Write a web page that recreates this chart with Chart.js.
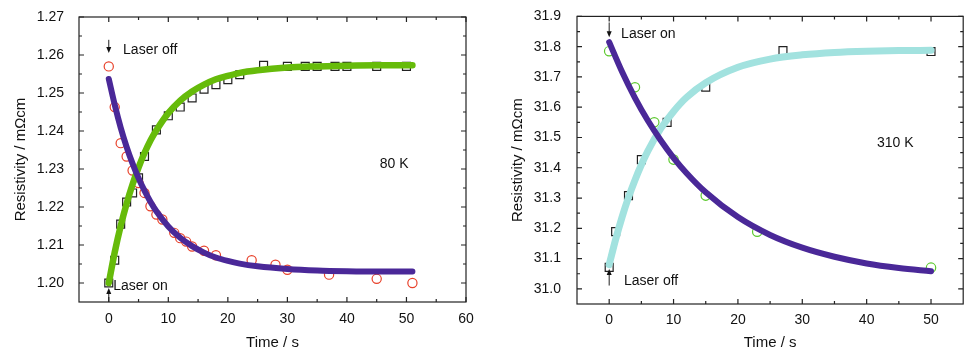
<!DOCTYPE html>
<html>
<head>
<meta charset="utf-8">
<script src="https://cdn.jsdelivr.net/npm/chart.js@4.4.1/dist/chart.umd.min.js"></script>
<style>
  body { margin: 0; background: #fff; }
  canvas { position: absolute; top: 0; }
  #left { left: 0; }
  #right { left: 490px; }
</style>
</head>
<body>
<canvas id="left" width="480" height="353"></canvas>
<canvas id="right" width="480" height="353"></canvas>
<script>
// ===== 80 K panel: measured points =====
const offTime80 = [0, 1, 2, 3, 4, 5, 6, 7, 8, 9, 11, 12, 13, 14, 16, 18, 24, 28, 30, 37, 45, 51];
const offRes80 = [1.257, 1.2463, 1.2368, 1.2333, 1.2296, 1.2263, 1.2237, 1.2202, 1.218, 1.2167, 1.2132, 1.2118, 1.2109, 1.2096, 1.2085, 1.2073, 1.206, 1.2048, 1.2035, 1.2022, 1.2011, 1.2];
const onTime80 = [0, 1, 2, 3, 4, 5, 6, 8, 10, 12, 14, 16, 18, 20, 22, 26, 30, 33, 35, 38, 40, 45, 50];
const onRes80 = [1.2, 1.206, 1.2155, 1.2213, 1.2237, 1.2277, 1.2333, 1.2403, 1.244, 1.2463, 1.2487, 1.251, 1.2522, 1.2535, 1.2548, 1.2573, 1.257, 1.257, 1.257, 1.257, 1.257, 1.257, 1.257];

// fitted curves
const fitTime80 = [0, 1, 2, 3, 4, 5, 6, 7, 8, 10, 12, 14, 16, 18, 20, 22, 25, 30, 35, 40, 45, 51];
const fitOn80 = [1.2, 1.2081, 1.215, 1.2209, 1.226, 1.2304, 1.2342, 1.2375, 1.2402, 1.2447, 1.248, 1.2504, 1.2522, 1.2536, 1.2545, 1.2553, 1.256, 1.2567, 1.257, 1.2572, 1.2573, 1.2573];
const fitOff80 = [1.2537, 1.2469, 1.2409, 1.2358, 1.2314, 1.2276, 1.2243, 1.2214, 1.2189, 1.2149, 1.2119, 1.2097, 1.208, 1.2067, 1.2058, 1.2051, 1.2044, 1.2037, 1.2033, 1.2031, 1.203, 1.203];

// ===== 310 K panel =====
const offTime310 = [0, 4, 7, 10, 15, 23, 50];
const offRes310 = [31.785, 31.666, 31.55, 31.427, 31.308, 31.189, 31.07];
const onTime310 = [0, 1, 3, 5, 9, 15, 27, 50];
const onRes310 = [31.071, 31.189, 31.308, 31.427, 31.55, 31.666, 31.787, 31.784];

const fitOnTime310 = [0, 1, 2, 3, 4, 5, 6, 8, 10, 12, 15, 20, 25, 30, 35, 40, 45, 50];
const fitOn310 = [31.08, 31.163, 31.237, 31.302, 31.359, 31.41, 31.455, 31.529, 31.586, 31.632, 31.681, 31.732, 31.759, 31.773, 31.781, 31.785, 31.787, 31.788];
const fitOffTime310 = [0, 2, 4, 6, 8, 10, 12, 15, 20, 25, 30, 35, 40, 45, 50];
const fitOff310 = [31.815, 31.717, 31.631, 31.556, 31.491, 31.433, 31.383, 31.319, 31.237, 31.178, 31.136, 31.106, 31.084, 31.069, 31.058];

// axis ticks
const xMajor80 = [0, 10, 20, 30, 40, 50, 60];
const xMinor80 = [5, 15, 25, 35, 45, 55];
const yMajor80 = [1.20, 1.21, 1.22, 1.23, 1.24, 1.25, 1.26, 1.27];
const yMinor80 = [1.205, 1.215, 1.225, 1.235, 1.245, 1.255, 1.265];
const xMajor310 = [0, 10, 20, 30, 40, 50];
const xMinor310 = [5, 15, 25, 35, 45];
const yMajor310 = [31.0, 31.1, 31.2, 31.3, 31.4, 31.5, 31.6, 31.7, 31.8, 31.9];
const yMinor310 = [31.05, 31.15, 31.25, 31.35, 31.45, 31.55, 31.65, 31.75, 31.85];

const FONT = "'Liberation Sans', Arial, Helvetica, sans-serif";
const PURPLE = "#4a2898";
const GREEN = "#66bb0a";
const CYAN = "#a2e2df";

const pts = (xs, ys) => xs.map((x, i) => ({ x, y: ys[i] }));

// box frame, inward ticks on all sides, arrows and notes
const framePlugin = {
	id: "frame",
	afterDraw(chart, args, opts) {
		const { ctx, chartArea: a, scales: { x, y } } = chart;
		ctx.save();
		ctx.strokeStyle = "#222";
		ctx.lineWidth = 1.2;
		ctx.strokeRect(a.left, a.top, a.width, a.height);

		const xTicks = (vals, len) => vals.forEach((v) => {
			const px = x.getPixelForValue(v);
			ctx.beginPath();
			ctx.moveTo(px, a.bottom); ctx.lineTo(px, a.bottom - len);
			ctx.moveTo(px, a.top); ctx.lineTo(px, a.top + len);
			ctx.stroke();
		});
		const yTicks = (vals, len) => vals.forEach((v) => {
			const py = y.getPixelForValue(v);
			ctx.beginPath();
			ctx.moveTo(a.left, py); ctx.lineTo(a.left + len, py);
			ctx.moveTo(a.right, py); ctx.lineTo(a.right - len, py);
			ctx.stroke();
		});
		xTicks(opts.xMajor, 5);
		xTicks(opts.xMinor, 3);
		yTicks(opts.yMajor, 5);
		yTicks(opts.yMinor, 3);

		// arrows
		ctx.fillStyle = "#111";
		ctx.lineWidth = 1;
		opts.arrows.forEach((ar) => {
			const px = x.getPixelForValue(ar.x);
			const p0 = y.getPixelForValue(ar.from);
			const p1 = y.getPixelForValue(ar.to);
			const dir = p1 > p0 ? 1 : -1;
			ctx.beginPath();
			ctx.moveTo(px, p0); ctx.lineTo(px, p1 - dir * 3);
			ctx.stroke();
			ctx.beginPath();
			ctx.moveTo(px, p1);
			ctx.lineTo(px - 2.5, p1 - dir * 6);
			ctx.lineTo(px + 2.5, p1 - dir * 6);
			ctx.closePath();
			ctx.fill();
		});

		// notes
		ctx.font = "14px " + FONT;
		ctx.textBaseline = "middle";
		ctx.textAlign = "left";
		opts.notes.forEach((n) => {
			ctx.fillText(n.text, x.getPixelForValue(n.x), y.getPixelForValue(n.y));
		});
		ctx.restore();
	},
};

function makeChart(id, cfg) {
	return new Chart(document.getElementById(id), {
		type: "scatter",
		data: { datasets: cfg.datasets },
		options: {
			responsive: false,
			animation: false,
			devicePixelRatio: 1,
			layout: { padding: cfg.padding },
			plugins: {
				legend: { display: false },
				tooltip: { enabled: false },
				frame: cfg.frame,
			},
			scales: {
				x: {
					min: cfg.xMin,
					max: cfg.xMax,
					afterBuildTicks: (s) => { s.ticks = cfg.frame.xMajor.map((v) => ({ value: v })); },
					afterFit: (s) => { s.height = cfg.xHeight; },
					grid: { display: false },
					border: { display: false },
					ticks: { color: "#111", font: { family: FONT, size: 14 }, padding: cfg.xPad, maxRotation: 0 },
					title: { display: true, text: "Time / s", color: "#111", font: { family: FONT, size: 15 }, padding: { top: 0, bottom: 1 } },
				},
				y: {
					min: cfg.yMin,
					max: cfg.yMax,
					afterBuildTicks: (s) => { s.ticks = cfg.frame.yMajor.map((v) => ({ value: v })); },
					afterFit: (s) => { s.width = cfg.yWidth; },
					grid: { display: false },
					border: { display: false },
					ticks: { color: "#111", font: { family: FONT, size: 14 }, padding: cfg.yPad, callback: (v) => v.toFixed(cfg.dec) },
					title: { display: true, text: "Resistivity / m\u03A9cm", color: "#111", font: { family: FONT, size: 15 }, padding: { top: cfg.titlePad, bottom: 0 } },
				},
			},
		},
		plugins: [framePlugin],
	});
}

const fitLine = (data, color, w) => ({
	data, showLine: true, borderColor: color, borderWidth: w, pointRadius: 0,
	cubicInterpolationMode: "monotone", borderCapStyle: "round", order: 0,
});
const marks = (data, style, color, r) => ({
	data, pointStyle: style, pointRadius: r, pointBorderColor: color,
	pointBackgroundColor: "rgba(0,0,0,0)", pointBorderWidth: 1.2, order: 1,
});

makeChart("left", {
	padding: { left: 0, right: 14, top: 17, bottom: 0 },
	xMin: -5, xMax: 60, yMin: 1.195, yMax: 1.27, dec: 2,
	xHeight: 51, yWidth: 79, xPad: 1, yPad: 7, titlePad: 12,
	datasets: [
		fitLine(pts(fitTime80, fitOff80), PURPLE, 6),
		fitLine(pts(fitTime80, fitOn80), GREEN, 6.5),
		marks(pts(offTime80, offRes80), "circle", "#e8412a", 4.6),
		marks(pts(onTime80, onRes80), "rect", "#222", 5.6),
	],
	frame: {
		xMajor: xMajor80, xMinor: xMinor80, yMajor: yMajor80, yMinor: yMinor80,
		arrows: [{ x: 0, from: 1.264, to: 1.2605 }, { x: 0, from: 1.195, to: 1.1987 }],
		notes: [
			{ text: "Laser off", x: 2.4, y: 1.2614 },
			{ text: "Laser on", x: 0.75, y: 1.1991 },
			{ text: "80 K", x: 45.5, y: 1.2312 },
		],
	},
});

makeChart("right", {
	padding: { left: 0, right: 2, top: 15.7, bottom: 0 },
	xMin: -5, xMax: 55, yMin: 30.95, yMax: 31.9, dec: 1,
	xHeight: 49, yWidth: 87, xPad: 0, yPad: 8, titlePad: 18.5,
	datasets: [
		fitLine(pts(fitOffTime310, fitOff310), PURPLE, 6),
		fitLine(pts(fitOnTime310, fitOn310), CYAN, 7),
		marks(pts(offTime310, offRes310), "circle", "#5cc92e", 4.7),
		marks(pts(onTime310, onRes310), "rect", "#222", 5.6),
	],
	frame: {
		xMajor: xMajor310, xMinor: xMinor310, yMajor: yMajor310, yMinor: yMinor310,
		arrows: [{ x: 0, from: 31.88, to: 31.831 }, { x: 0, from: 31.011, to: 31.066 }],
		notes: [
			{ text: "Laser on", x: 1.85, y: 31.842 },
			{ text: "Laser off", x: 2.3, y: 31.025 },
			{ text: "310 K", x: 41.6, y: 31.483 },
		],
	},
});
</script>
</body>
</html>
